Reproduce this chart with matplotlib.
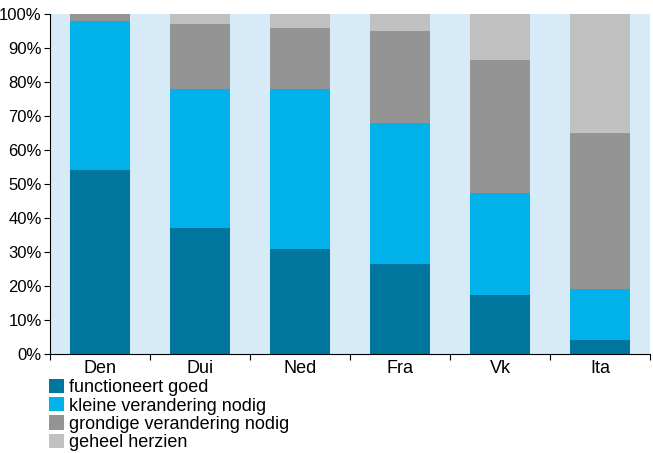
import matplotlib.pyplot as plt
import numpy as np

plt.rcParams["font.family"] = ["Liberation Sans", "DejaVu Sans"]

# landen en aandelen (%)
landen = ["Den", "Dui", "Ned", "Fra", "Vk", "Ita"]
goed = [54, 37, 31, 26.5, 17.5, 4]
klein = [44, 41, 47, 41.5, 30, 15]
grondig = [2, 19, 18, 27, 39, 46]
herzien = [0, 3, 4, 5, 13.5, 35]

labels = ["functioneert goed", "kleine verandering nodig",
          "grondige verandering nodig", "geheel herzien"]
kleuren = ["#00769e", "#00b1ea", "#949494", "#c1c1c1"]

fig = plt.figure(figsize=(6.53, 4.53), dpi=100)
ax = fig.add_axes([50 / 653, 1 - 354 / 453, 600 / 653, 340 / 453])
ax.set_facecolor("#d6eaf8")

x = np.arange(len(landen))
onder = np.zeros(len(landen))
for waarden, lab, kl in zip([goed, klein, grondig, herzien], labels, kleuren):
    ax.bar(x, waarden, 0.6, bottom=onder, color=kl, label=lab)
    onder += np.array(waarden)

ax.set_xlim(-0.5, len(landen) - 0.5)
ax.set_ylim(0, 100)
ax.set_yticks(range(0, 101, 10))
ax.set_yticklabels([f"{v}%" for v in range(0, 101, 10)], fontsize=12)
ax.set_xticks(x)
ax.set_xticklabels(landen, fontsize=13)
ax.set_xticks(np.arange(-0.5, len(landen), 1), minor=True)
ax.tick_params(axis="x", which="major", length=0, pad=4)
ax.tick_params(axis="x", which="minor", length=4, width=0.8)
ax.tick_params(axis="y", length=4, width=0.8, pad=2)
for s in ["top", "right"]:
    ax.spines[s].set_visible(False)

fig.legend(loc="upper left", bbox_to_anchor=(49 / 653, 1 - 379 / 453),
           frameon=False, fontsize=13, handlelength=0.83, handleheight=0.83,
           handletextpad=0.3, labelspacing=0.05, borderpad=0, borderaxespad=0)

plt.savefig("out.png", dpi=100)
